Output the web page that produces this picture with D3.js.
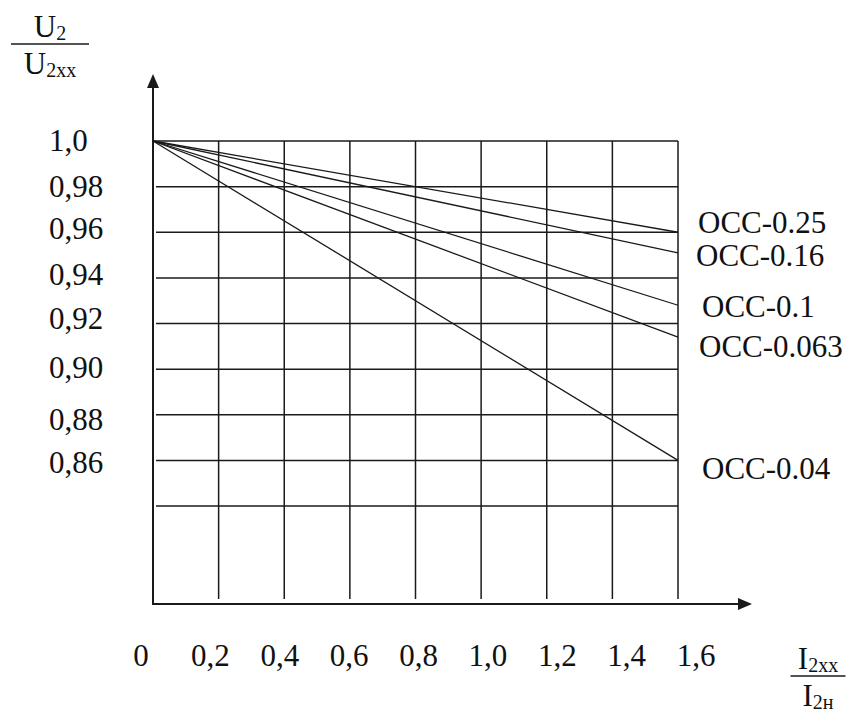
<!DOCTYPE html>
<html>
<head>
<meta charset="utf-8">
<script src="https://cdn.jsdelivr.net/npm/d3@7"></script>
<style>
  body { margin: 0; background: #fff; }
</style>
</head>
<body>
<svg width="859" height="715" font-family="Liberation Serif, Times New Roman, Times, serif"></svg>
<script>
// load ratio I2xx/I2n along the x axis
const xTicks = [0, 0.2, 0.4, 0.6, 0.8, 1.0, 1.2, 1.4, 1.6];
const xTickLabels = ["0", "0,2", "0,4", "0,6", "0,8", "1,0", "1,2", "1,4", "1,6"];

// voltage ratio U2/U2xx
const yGrid = [1.0, 0.98, 0.96, 0.94, 0.92, 0.90, 0.88, 0.86, 0.84];
const yTickValues = [1.0, 0.98, 0.96, 0.94, 0.92, 0.90, 0.88, 0.86];
const yTickLabels = ["1,0", "0,98", "0,96", "0,94", "0,92", "0,90", "0,88", "0,86"];

// transformer curves (straight lines from no-load to full load)
const seriesNames = ["OCC-0.25", "OCC-0.16", "OCC-0.1", "OCC-0.063", "OCC-0.04"];
const loadX = [0, 1.6];
const occ025 = [1.0, 0.960];
const occ016 = [1.0, 0.951];
const occ01 = [1.0, 0.928];
const occ0063 = [1.0, 0.914];
const occ004 = [1.0, 0.860];
const seriesValues = [occ025, occ016, occ01, occ0063, occ004];

const svg = d3.select("svg");
const ink = "#1a1a1a";
const serif = "'Liberation Serif', 'Times New Roman', Times, serif";

const x = d3.scaleLinear().domain([0, 1.6]).range([153, 678]);
const y = d3.scaleLinear().domain([0.84, 1.0]).range([506, 141]);
// tick labels in the drawing are spread a little wider than the grid
const xLabel = d3.scaleLinear().domain([0, 1.6]).range([141, 696]);
const axisY = 604;

// horizontal grid
svg.append("g").selectAll("line")
    .data(yGrid)
    .enter()
    .append("line")
    .attr("x1", (d, i) => i === 0 ? x(0) : x(0) + 3)
    .attr("x2", x(1.6))
    .attr("y1", d => y(d))
    .attr("y2", d => y(d))
    .style("stroke", ink)
    .style("stroke-width", 1.5);

// vertical grid
svg.append("g").selectAll("line")
    .data(xTicks.slice(1))
    .enter()
    .append("line")
    .attr("x1", d => x(d))
    .attr("x2", d => x(d))
    .attr("y1", y(1.0))
    .attr("y2", axisY - 5)
    .style("stroke", ink)
    .style("stroke-width", 1.5);

// axes with arrows
svg.append("line")
    .attr("x1", x(0)).attr("x2", x(0))
    .attr("y1", axisY + 1).attr("y2", 86)
    .style("stroke", ink).style("stroke-width", 2);
svg.append("path")
    .attr("d", `M${x(0)},74 L${x(0) - 6},88 L${x(0) + 6},88 Z`)
    .style("fill", ink);

svg.append("line")
    .attr("x1", x(0) - 1).attr("x2", 740)
    .attr("y1", axisY).attr("y2", axisY)
    .style("stroke", ink).style("stroke-width", 2);
svg.append("path")
    .attr("d", `M752,${axisY} L738,${axisY - 6} L738,${axisY + 6} Z`)
    .style("fill", ink);

// curves
const line = d3.line()
    .x((d, i) => x(loadX[i]))
    .y(d => y(d));

svg.append("g").selectAll("path")
    .data(seriesValues)
    .enter()
    .append("path")
    .attr("d", d => line(d))
    .style("fill", "none")
    .style("stroke", ink)
    .style("stroke-width", 1.3);

// curve labels, nudged as in the drawing
const nameNudge = [[20, -10], [18, 2], [24, 1], [21, 9], [24, 8]];
svg.append("g").selectAll("text")
    .data(seriesNames)
    .enter()
    .append("text")
    .attr("x", (d, i) => x(loadX[1]) + nameNudge[i][0])
    .attr("y", (d, i) => y(seriesValues[i][1]) + nameNudge[i][1])
    .attr("dy", "0.35em")
    .style("font-family", serif)
    .style("font-size", "31px")
    .style("fill", "#111")
    .text(d => d);

// y tick labels
const yNudge = [-1, 0, -4, -4, -5, -2, 4, 2];
svg.append("g").selectAll("text")
    .data(yTickValues)
    .enter()
    .append("text")
    .attr("x", 49)
    .attr("y", (d, i) => y(d) + yNudge[i])
    .attr("dy", "0.35em")
    .style("font-family", serif)
    .style("font-size", "31px")
    .style("fill", "#111")
    .text((d, i) => yTickLabels[i]);

// x tick labels
svg.append("g").selectAll("text")
    .data(xTicks)
    .enter()
    .append("text")
    .attr("x", d => xLabel(d))
    .attr("y", axisY + 51)
    .attr("dy", "0.35em")
    .attr("text-anchor", "middle")
    .style("font-family", serif)
    .style("font-size", "31px")
    .style("fill", "#111")
    .text((d, i) => xTickLabels[i]);

// axis titles as fractions
function fraction(cx, top, numMain, numSub, denMain, denSub, barW) {
    const g = svg.append("g");
    const num = g.append("text")
        .attr("x", cx).attr("y", top)
        .attr("text-anchor", "middle")
        .style("font-family", serif)
        .style("font-size", "31px")
        .style("fill", "#111");
    num.append("tspan").text(numMain);
    num.append("tspan").attr("dy", 3).style("font-size", "20px").text(numSub);

    g.append("line")
        .attr("x1", cx - barW / 2).attr("x2", cx + barW / 2)
        .attr("y1", top + 7).attr("y2", top + 7)
        .style("stroke", ink).style("stroke-width", 1.6);

    const den = g.append("text")
        .attr("x", cx).attr("y", top + 37)
        .attr("text-anchor", "middle")
        .style("font-family", serif)
        .style("font-size", "31px")
        .style("fill", "#111");
    den.append("tspan").text(denMain);
    den.append("tspan").attr("dy", 3).style("font-size", "20px").text(denSub);
}

fraction(50, 37, "U", "2", "U", "2xx", 78);
fraction(818, 669, "I", "2xx", "I", "2н", 55);
</script>
</body>
</html>
